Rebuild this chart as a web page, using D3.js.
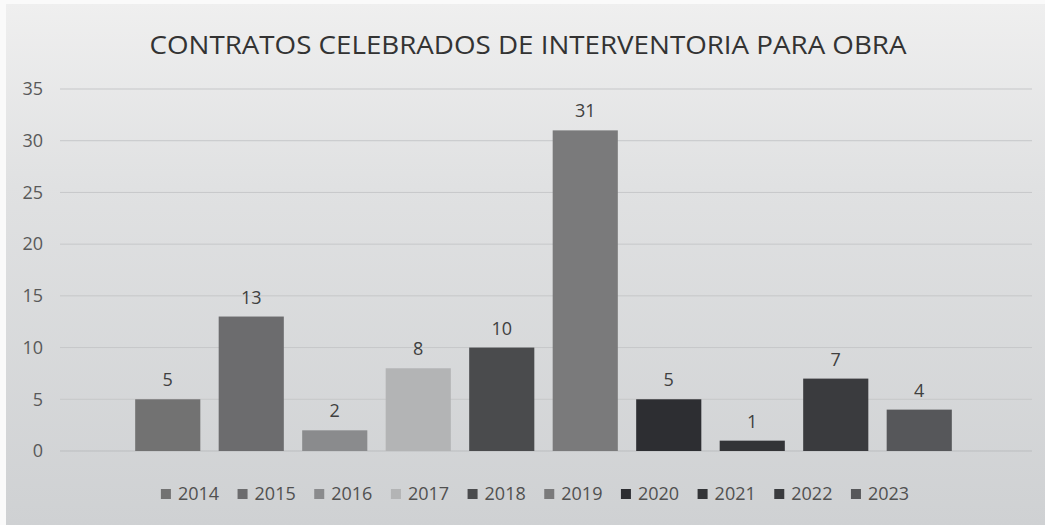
<!DOCTYPE html>
<html>
<head>
<meta charset="utf-8">
<script src="https://cdn.jsdelivr.net/npm/d3@7"></script>
<style>
  body { margin: 0; background: #fff; }
  svg { display: block; }
</style>
</head>
<body>
<div id="chart"></div>
<script>
const years = ["2014", "2015", "2016", "2017", "2018", "2019", "2020", "2021", "2022", "2023"];
const contracts = [5, 13, 2, 8, 10, 31, 5, 1, 7, 4];
const barColors = ["#727272", "#6c6c6e", "#8a8b8d", "#b3b4b5", "#4a4b4d", "#7a7a7b", "#2d2e32", "#333437", "#3a3b3e", "#56575a"];
const yTicks = [0, 5, 10, 15, 20, 25, 30, 35];

const width = 1045, height = 525;
const font = "'Open Sans', 'Liberation Sans', sans-serif";

const svg = d3.select("#chart").append("svg")
  .attr("width", width)
  .attr("height", height);

// background gradient (scanned look)
const grad = svg.append("defs").append("linearGradient")
  .attr("id", "bg").attr("x1", 0).attr("y1", 0).attr("x2", 0).attr("y2", 1);
grad.append("stop").attr("offset", "0%").attr("stop-color", "#efefef");
grad.append("stop").attr("offset", "35%").attr("stop-color", "#e0e1e2");
grad.append("stop").attr("offset", "100%").attr("stop-color", "#cfd1d3");

svg.append("rect").attr("width", width).attr("height", height).attr("fill", "#fafafa");
svg.append("rect")
  .attr("x", 6).attr("y", 4)
  .attr("width", width - 6).attr("height", height - 4)
  .attr("fill", "url(#bg)");

var y = d3.scaleLinear().domain([0, 35]).range([451, 89]);
var x = d3.scaleBand()
  .domain(years)
  .range([126, 961])
  .paddingInner(0.22)
  .paddingOuter(0.11);

// gridlines
svg.append("g")
  .selectAll("line")
  .data(yTicks)
  .enter()
  .append("line")
  .attr("x1", 60).attr("x2", 1032)
  .attr("y1", d => y(d)).attr("y2", d => y(d))
  .attr("stroke", d => d === 0 ? "#bbbdbf" : "#c6c7c9")
  .attr("stroke-width", 1);

// y tick labels
svg.append("g")
  .selectAll("text")
  .data(yTicks)
  .enter()
  .append("text")
  .attr("x", 43)
  .attr("y", d => y(d))
  .attr("dy", "0.35em")
  .attr("text-anchor", "end")
  .attr("font-family", font)
  .attr("font-size", 18)
  .attr("fill", "#595959")
  .text(d => d);

// bars
svg.append("g")
  .selectAll("rect")
  .data(years)
  .enter()
  .append("rect")
  .attr("x", d => x(d))
  .attr("y", (d, i) => y(contracts[i]))
  .attr("width", x.bandwidth())
  .attr("height", (d, i) => y(0) - y(contracts[i]))
  .attr("fill", (d, i) => barColors[i]);

// value labels
svg.append("g")
  .selectAll("text")
  .data(years)
  .enter()
  .append("text")
  .attr("x", d => x(d) + x.bandwidth() / 2)
  .attr("y", (d, i) => y(contracts[i]) - 13)
  .attr("text-anchor", "middle")
  .attr("font-family", font)
  .attr("font-size", 18)
  .attr("fill", "#404040")
  .text((d, i) => contracts[i]);

// title
svg.append("text")
  .attr("x", 528)
  .attr("y", 54)
  .attr("text-anchor", "middle")
  .attr("font-family", font)
  .attr("font-size", 25)
  .attr("fill", "#333333")
  .attr("textLength", 757)
  .attr("lengthAdjust", "spacingAndGlyphs")
  .text("CONTRATOS CELEBRADOS DE INTERVENTORIA PARA OBRA");

// legend
var legend = svg.append("g");
var items = legend.selectAll("g")
  .data(years)
  .enter()
  .append("g");
items.append("rect")
  .attr("y", -5).attr("width", 10).attr("height", 10)
  .attr("fill", (d, i) => barColors[i]);
items.append("text")
  .attr("x", 17)
  .attr("dy", "0.35em")
  .attr("font-family", font)
  .attr("font-size", 18)
  .attr("fill", "#505050")
  .text(d => d);

var gap = 18.5;
var offset = 0;
var positions = [];
items.each(function () {
  positions.push(offset);
  offset += this.getBBox().width + gap;
});
var legendWidth = offset - gap;
var legendStart = 535 - legendWidth / 2;
items.attr("transform", (d, i) => "translate(" + (legendStart + positions[i]) + ",494)");
</script>
</body>
</html>
